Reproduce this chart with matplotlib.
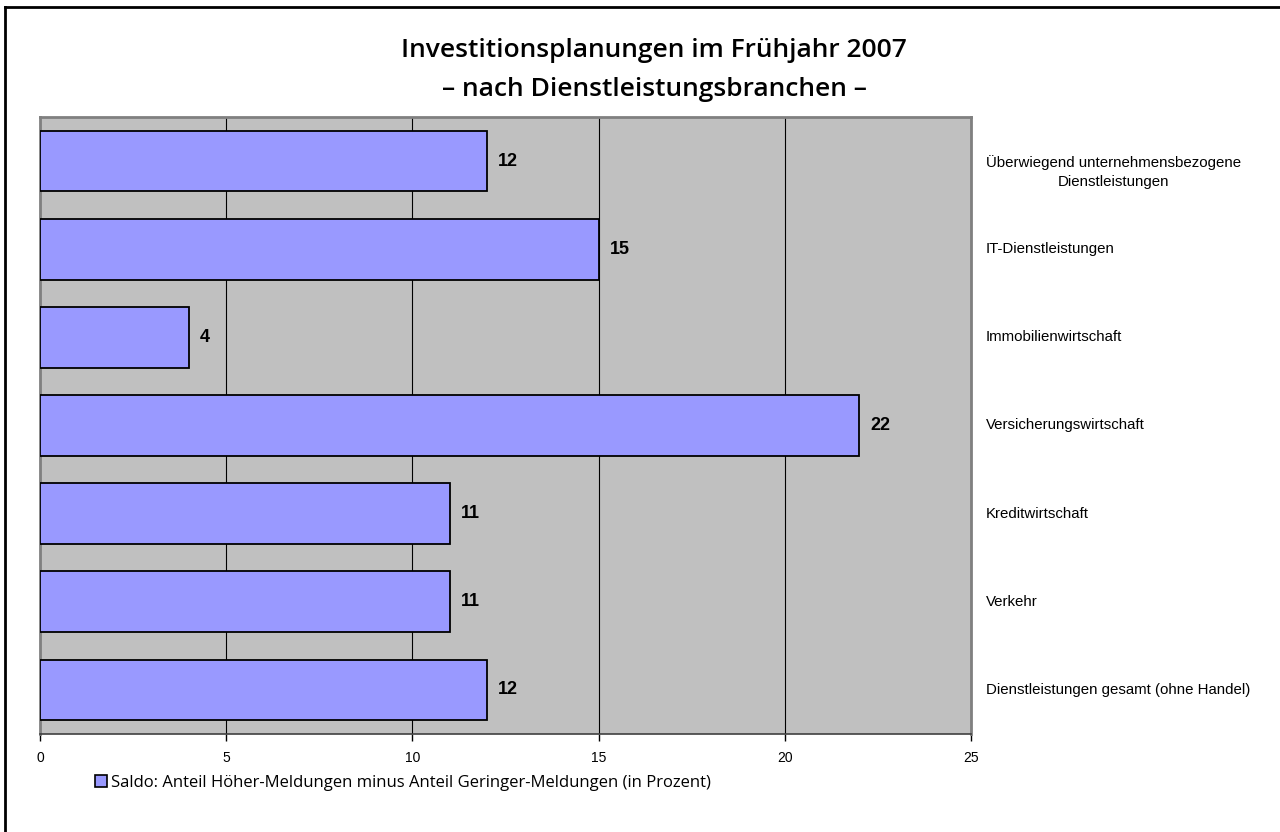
import matplotlib.pyplot as plt
from matplotlib.lines import Line2D

categories = [
    "Dienstleistungen gesamt (ohne Handel)",
    "Verkehr",
    "Kreditwirtschaft",
    "Versicherungswirtschaft",
    "Immobilienwirtschaft",
    "IT-Dienstleistungen",
    "Überwiegend unternehmensbezogene\nDienstleistungen",
]
values = [12, 11, 11, 22, 4, 15, 12]
xticks = [0, 5, 10, 15, 20, 25]
legend_label = "Saldo: Anteil Höher-Meldungen minus Anteil Geringer-Meldungen (in Prozent)"

bar_color = "#9999ff"
plt.rcParams["font.family"] = ["Liberation Sans", "DejaVu Sans"]

fig = plt.figure(figsize=(12.8, 8.32), dpi=100)
ax = fig.add_axes([40 / 1280, 1 - 734 / 832, 931 / 1280, 617 / 832])
ax.set_facecolor("#c0c0c0")

ypos = list(range(len(categories)))
bars = ax.barh(ypos, values, height=0.69, color=bar_color, edgecolor="black",
               linewidth=1.3, zorder=3)

# Wertbeschriftungen
for y, v in zip(ypos, values):
    ax.text(v + 0.3, y, str(v), ha="left", va="center", fontsize=13,
            fontweight="bold", zorder=4)

ax.set_xlim(0, 25)
ax.set_ylim(-0.5, len(categories) - 0.5)
ax.set_xticks(xticks)
ax.set_xticklabels([str(t) for t in xticks], fontsize=10)
ax.tick_params(axis="x", direction="out", length=5, width=1, pad=7)
ax.set_yticks([])
ax.grid(axis="x", color="black", linewidth=0.8, zorder=1)

for s in ["top", "right", "left"]:
    ax.spines[s].set_color("#808080")
    ax.spines[s].set_linewidth(2)
ax.spines["bottom"].set_color("#404040")
ax.spines["bottom"].set_linewidth(1.2)

# Kategorien rechts
for y, c in zip(ypos, categories):
    n = c.count("\n")
    ax.text(25.4, y - 0.125 * n, c, ha="left", va="center", fontsize=10.8,
            multialignment="center", linespacing=1.45, clip_on=False)

fig.text(0.511, 1 - 70 / 832, "Investitionsplanungen im Frühjahr 2007\n– nach Dienstleistungsbranchen –",
         ha="center", va="center", fontsize=19, fontweight="semibold",
         family=["Open Sans", "DejaVu Sans"], linespacing=1.7)

handle = Line2D([], [], marker="s", linestyle="none", markersize=9,
                markerfacecolor=bar_color, markeredgecolor="black", markeredgewidth=1.2)
fig.legend([handle], [legend_label], loc="center left",
           bbox_to_anchor=(94 / 1280, 1 - 783 / 832), frameon=False,
           borderpad=0, borderaxespad=0, handlelength=0.8, handletextpad=0.2,
           prop={"family": ["Open Sans", "DejaVu Sans"], "size": 12})

# Rahmen um die Grafik
fig.add_artist(Line2D([5 / 1280, 1], [1 - 7 / 832, 1 - 7 / 832], color="black", linewidth=2,
                      transform=fig.transFigure))
fig.add_artist(Line2D([5 / 1280, 5 / 1280], [0, 1 - 7 / 832], color="black", linewidth=2,
                      transform=fig.transFigure))

fig.savefig("out.png", dpi=100)
